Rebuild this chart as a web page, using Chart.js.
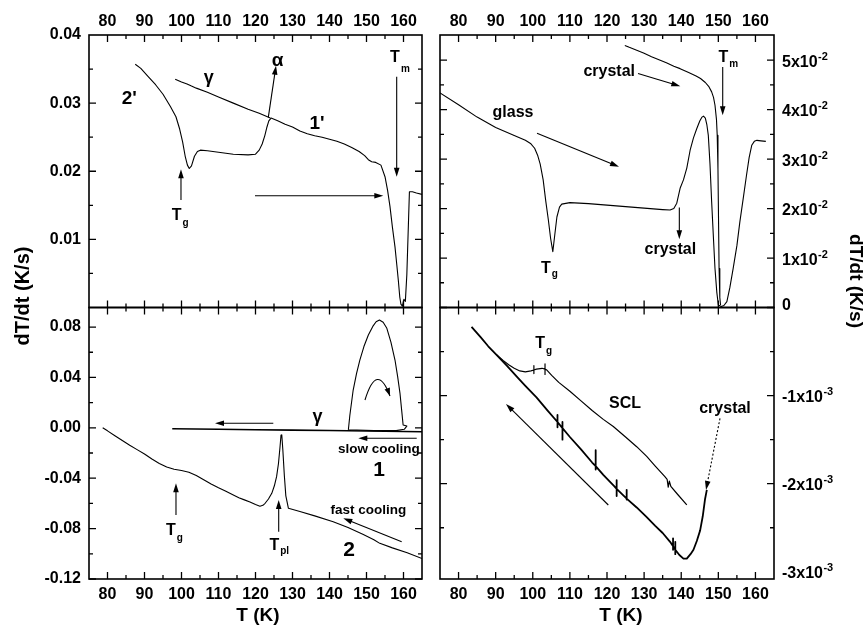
<!DOCTYPE html>
<html>
<head>
<meta charset="utf-8">
<title>dT/dt vs T</title>
<script src="https://cdn.jsdelivr.net/npm/chart.js@4.4.1/dist/chart.umd.min.js"></script>
<style>
  html, body { margin: 0; padding: 0; background: #fff; }
  #stage { position: relative; width: 866px; height: 627px; }
  #stage canvas { position: absolute; left: 0; top: 0; }
</style>
</head>
<body>
<div id="stage">
  <canvas id="tl" width="866" height="627"></canvas>
  <canvas id="tr" width="866" height="627"></canvas>
  <canvas id="bl" width="866" height="627"></canvas>
  <canvas id="br" width="866" height="627"></canvas>
</div>
<script>
const W = 866, H = 627;
const FONT = "'Liberation Sans', Arial, Helvetica, sans-serif";
const Y_AXIS_W = 80, X_AXIS_H = 30;

// shared temperature axis (K)
const T_MIN = 75, T_MAX = 165;
const T_LABELS = [80, 90, 100, 110, 120, 130, 140, 150, 160];
const T_MINOR = [85, 95, 105, 115, 125, 135, 145, 155];

// top left: heating runs 2' and 1', plus the gamma branch
const tlCurveT = [87.5, 89, 91, 93, 95, 97, 98.5, 99.5, 100.3, 101, 101.6, 102.1, 102.7, 103.5, 104.3, 105.1, 107, 110, 114, 118, 120, 121, 121.8, 122.5, 123.1, 123.6, 124.2, 126, 128, 130, 132, 134, 136, 138, 140, 142, 144, 146, 148, 149.5, 150.5, 151.4, 152.5, 153.9, 155.0, 155.7, 156.35, 157.0, 157.7, 158.2, 158.6, 159.0, 159.3, 159.7, 160.1, 160.5, 160.9, 161.6, 162.4, 163.5, 165];
const tlCurveV = [0.0357, 0.0351, 0.0339, 0.0327, 0.0313, 0.0295, 0.028, 0.0262, 0.0243, 0.0222, 0.0209, 0.0204, 0.0208, 0.0222, 0.0229, 0.0231, 0.023, 0.0228, 0.0225, 0.0224, 0.0225, 0.0231, 0.024, 0.0252, 0.0265, 0.0274, 0.0278, 0.0274, 0.0269, 0.0265, 0.0259, 0.0255, 0.0252, 0.025, 0.0247, 0.0244, 0.024, 0.0235, 0.0229, 0.0223, 0.0217, 0.0214, 0.0213, 0.0209, 0.0192, 0.0172, 0.0148, 0.0118, 0.0089, 0.0062, 0.004, 0.0015, 0.0005, 0.0002, 0.0012, 0.0009, 0.0048, 0.017, 0.017, 0.0168, 0.0166];
const tlGammaT = [98.3, 100, 101.5, 102.7, 104, 107, 110, 114, 118, 121, 124];
const tlGammaV = [0.0335, 0.0331, 0.0328, 0.0325, 0.0322, 0.0316, 0.0309, 0.03, 0.0291, 0.0285, 0.0278];
const tlYLabels = [0.01, 0.02, 0.03, 0.04];
const tlYMajor = [0.01, 0.02, 0.03];
const tlYMinor = [0.005, 0.015, 0.025, 0.035];

// top right: glass and crystal heating
const trGlassT = [75, 80, 85, 90, 95, 98, 99.5, 100.5, 101.3, 102, 102.8, 103.5, 104.2, 104.8, 105.4, 105.9, 106.5, 107.2, 107.8, 110, 115, 120, 125, 130, 135, 137, 138, 138.8, 139.7, 140.6, 141.5, 142.4, 143.3, 144.2, 145, 145.6, 146, 146.5, 146.9, 147.3, 147.75, 148.2, 148.65, 149.1, 149.6, 150, 150.8, 151.5, 152.3, 153.1, 154, 155, 155.8, 156.7, 157.6, 158.3, 159, 159.7, 160.4, 161.5, 162.8];
const trGlassV = [0.0434, 0.041, 0.0385, 0.0364, 0.0348, 0.0338, 0.0331, 0.0322, 0.0308, 0.029, 0.0258, 0.0215, 0.0177, 0.014, 0.0113, 0.0145, 0.0183, 0.0203, 0.0209, 0.0212, 0.021, 0.0207, 0.0204, 0.0201, 0.0198, 0.0197, 0.02, 0.0211, 0.0241, 0.0258, 0.0282, 0.0318, 0.0343, 0.0362, 0.0377, 0.0385, 0.0387, 0.0383, 0.037, 0.0348, 0.029, 0.0214, 0.0145, 0.0079, 0.003, 0.0005, 0.0002, 0.0004, 0.0012, 0.004, 0.0079, 0.0125, 0.0173, 0.022, 0.0268, 0.0303, 0.0328, 0.0336, 0.0338, 0.0337, 0.0336];
const trCrystalT = [124.8, 126, 128, 130, 132, 134, 136, 138, 139.7, 142, 144, 145.2, 146.5, 147.5, 148.2, 148.7, 149.1, 149.5, 149.7, 149.9, 150, 150.2, 150.4, 150.6];
const trCrystalV = [0.053, 0.0526, 0.052, 0.0514, 0.0507, 0.0501, 0.0495, 0.0488, 0.0483, 0.0475, 0.0468, 0.0463, 0.0455, 0.0446, 0.0436, 0.0425, 0.0409, 0.038, 0.0348, 0.028, 0.0214, 0.0079, 0.002, 0.0005];
const trYTicks = [0, 0.01, 0.02, 0.03, 0.04, 0.05];
const trYText = ['0', '1x10', '2x10', '3x10', '4x10', '5x10'];
const trYMinor = [0.005, 0.015, 0.025, 0.035, 0.045];

// bottom left: fast cooling (2), slow cooling (1) with crystallisation loop
const blFastT = [78.7, 80, 82, 84, 86, 88, 90, 92, 94, 96, 98, 100, 102, 104, 106, 108, 110, 112, 114, 115.5, 117, 118.5, 120, 121.2, 122, 122.6, 123.5, 124.4, 125.1, 125.7, 126.2, 126.6, 126.9, 127.1, 127.4, 127.8, 128.2, 128.9, 132, 136, 141, 145, 149, 152, 153.6, 157, 161, 165];
const blFastV = [0, -0.0024, -0.0063, -0.0101, -0.0138, -0.0173, -0.0208, -0.0248, -0.0283, -0.0311, -0.0329, -0.0339, -0.0352, -0.0378, -0.0412, -0.0446, -0.0476, -0.0504, -0.0533, -0.0555, -0.0572, -0.0588, -0.0609, -0.0622, -0.0615, -0.0599, -0.0565, -0.052, -0.046, -0.0388, -0.0285, -0.016, -0.0057, -0.0055, -0.018, -0.038, -0.054, -0.0639, -0.0664, -0.0699, -0.0745, -0.0792, -0.0845, -0.0888, -0.0917, -0.0953, -0.0992, -0.1037];
const blSlowT = [97.5, 110, 120, 130, 140, 145, 150, 155, 160, 165];
const blSlowV = [-0.0007, -0.0011, -0.0015, -0.0018, -0.0021, -0.0023, -0.0025, -0.0027, -0.0029, -0.0031];
const blLoopT = [145.1, 145.5, 146.4, 147.3, 148.2, 149.3, 150.5, 151.7, 152.6, 153.5, 154.5, 155.5, 156.6, 157.7, 158.4, 159.05, 159.5, 159.9, 160.9, 160.2, 158, 152, 145.1];
const blLoopV = [-0.0015, 0.01, 0.03, 0.043, 0.0538, 0.0645, 0.0737, 0.0805, 0.0842, 0.0856, 0.0838, 0.079, 0.068, 0.0538, 0.041, 0.0274, 0.014, 0.0022, 0.0014, -0.0012, -0.0022, -0.0022, -0.0015];
const blYLabels = [-0.12, -0.08, -0.04, 0, 0.04, 0.08];
const blYMinor = [-0.1, -0.06, -0.02, 0.02, 0.06];

// bottom right: cooling of glass/crystal and SCL (vertical glitches kept as spikes)
const brLowT = [83.5, 86, 88, 90.3, 93, 96, 98, 101, 104,
  106.66, 106.66, 106.66, 106.66, 108, 108, 108, 108, 110, 113, 116,
  116.95, 116.95, 116.95, 116.95, 119, 122, 122.6, 122.6, 122.6, 122.6,
  125.3, 125.3, 125.3, 125.3, 128, 130.7, 133, 135, 137,
  137.8, 137.8, 137.8, 137.8, 138.4, 138.4, 138.4, 138.4,
  139.5, 140.6, 141.5, 142.5, 143.3, 144.2, 145.1, 145.8, 146.4, 146.9];
const brLowV = [-0.00022, -0.00034, -0.00044, -0.00054, -0.00066, -0.0008, -0.00089, -0.00102, -0.00117,
  -0.0013, -0.00122, -0.00136, -0.0013, -0.00137, -0.0013, -0.0015, -0.00137, -0.00147, -0.00161, -0.00176,
  -0.0018, -0.00162, -0.00184, -0.0018, -0.0019, -0.00203, -0.00206, -0.00196, -0.00214, -0.00206,
  -0.00217, -0.00207, -0.00218, -0.00217, -0.00227, -0.00238, -0.00248, -0.00256, -0.00266,
  -0.00271, -0.00262, -0.00275, -0.00271, -0.00275, -0.00266, -0.0028, -0.00275,
  -0.00281, -0.00285, -0.00285, -0.0028, -0.00275, -0.00265, -0.00253, -0.00237, -0.00218, -0.00207];
const brSclT = [90.3, 92, 93.5, 95, 96.5, 98, 99.5, 100.3, 100.3, 100.3, 100.3, 101, 102.5,
  103.3, 103.3, 103.3, 103.3, 103.8, 105.1, 107, 110, 113, 116, 119, 121.7, 125, 128, 130.7, 133,
  135.6, 136.2, 136.5, 136.8, 137.2, 139, 141.5];
const brSclV = [-0.00054, -0.0006, -0.00065, -0.00069, -0.00072, -0.00073, -0.00072, -0.00071, -0.00066, -0.00075, -0.00071, -0.0007, -0.00069,
  -0.0007, -0.00064, -0.00076, -0.0007, -0.00071, -0.00077, -0.00085, -0.00095, -0.00106, -0.00117, -0.00127, -0.00135, -0.00147, -0.00158, -0.00169, -0.0018,
  -0.00192, -0.00195, -0.00204, -0.00197, -0.00203, -0.00212, -0.00224];
const brYTicks = [-0.001, -0.002, -0.003];
const brYText = ['-1x10', '-2x10', '-3x10'];
const brYMajor = [-0.001, -0.002];
const brYMinor = [-0.0005, -0.0015, -0.0025];

function arrowHead(ctx, x, y, ang, len = 9, hw = 2.8) {
  ctx.beginPath();
  ctx.moveTo(x, y);
  ctx.lineTo(x - len * Math.cos(ang) + hw * Math.sin(ang), y - len * Math.sin(ang) - hw * Math.cos(ang));
  ctx.lineTo(x - len * Math.cos(ang) - hw * Math.sin(ang), y - len * Math.sin(ang) + hw * Math.cos(ang));
  ctx.closePath();
  ctx.fill();
}

function drawLabel(ctx, x, y, s) {
  const size = s.size || 16, subSize = 10;
  ctx.font = `bold ${size}px ${FONT}`;
  ctx.textAlign = 'left';
  ctx.textBaseline = 'alphabetic';
  const w = ctx.measureText(s.text).width;
  const base = y + (s.c !== undefined ? s.c : 0.36) * size;
  ctx.fillText(s.text, x - w / 2, base);
  if (s.sub) {
    ctx.font = `bold ${subSize}px ${FONT}`;
    ctx.fillText(s.sub, x + w / 2 + 1, base + (s.subDy || 6));
  }
}

// frame, inward ticks, arrows and texts
function decor(cfg) {
  return {
    id: 'decor',
    afterDraw(chart) {
      const { ctx, chartArea: a } = chart;
      const X = v => chart.scales.x.getPixelForValue(v);
      const Y = v => chart.scales.y.getPixelForValue(v);
      ctx.save();
      ctx.fillStyle = '#000';
      ctx.strokeStyle = '#000';

      ctx.lineWidth = 1.3;
      ctx.beginPath();
      const tx = (vals, len) => vals.forEach(v => {
        const p = X(v);
        ctx.moveTo(p, a.top); ctx.lineTo(p, a.top + len);
        ctx.moveTo(p, a.bottom); ctx.lineTo(p, a.bottom - len);
      });
      const ty = (vals, len) => vals.forEach(v => {
        const p = Y(v);
        ctx.moveTo(a.left, p); ctx.lineTo(a.left + len, p);
        ctx.moveTo(a.right, p); ctx.lineTo(a.right - len, p);
      });
      tx(T_LABELS, 7); tx(T_MINOR, 4);
      ty(cfg.yMajor, 7); ty(cfg.yMinor, 4);
      ctx.stroke();
      ctx.lineWidth = 1.6;
      ctx.strokeRect(a.left, a.top, a.right - a.left, a.bottom - a.top);

      // right-hand axis labels with exponents
      if (cfg.rightTicks) {
        cfg.rightTicks.forEach((v, i) => {
          const p = Y(v), x0 = a.right + 8, m = cfg.rightText[i];
          ctx.font = `bold 16px ${FONT}`;
          ctx.textAlign = 'left';
          ctx.textBaseline = 'alphabetic';
          if (m === '0') { ctx.fillText(m, x0, p + 2); return; }
          ctx.fillText(m, x0, p + 6.5);
          const w = ctx.measureText(m).width;
          ctx.font = `bold 11px ${FONT}`;
          ctx.fillText(cfg.rightExp, x0 + w + 0.5, p - 0.5);
        });
      }

      (cfg.arrows || []).forEach(ar => {
        const x1 = X(ar[0]), y1 = Y(ar[1]), x2 = X(ar[2]), y2 = Y(ar[3]);
        const ang = Math.atan2(y2 - y1, x2 - x1);
        ctx.lineWidth = 1.1;
        ctx.setLineDash(ar[4] ? [2, 2] : []);
        ctx.beginPath();
        ctx.moveTo(x1, y1);
        ctx.lineTo(x2 - 6 * Math.cos(ang), y2 - 6 * Math.sin(ang));
        ctx.stroke();
        ctx.setLineDash([]);
        arrowHead(ctx, x2, y2, ang);
      });

      (cfg.bends || []).forEach(b => {
        const x0 = X(b[0]), y0 = Y(b[1]), xc = X(b[2]), yc = Y(b[3]), x1 = X(b[4]), y1 = Y(b[5]);
        ctx.lineWidth = 1.1;
        ctx.beginPath();
        ctx.moveTo(x0, y0);
        ctx.quadraticCurveTo(xc, yc, x1, y1);
        ctx.stroke();
        arrowHead(ctx, x1, y1, Math.atan2(y1 - yc, x1 - xc), 8, 2.8);
      });

      (cfg.labels || []).forEach(s => drawLabel(ctx, X(s.t), Y(s.v), s));

      (cfg.titles || []).forEach(t => {
        ctx.save();
        ctx.translate(t.x, t.y);
        ctx.rotate((t.rot || 0) * Math.PI / 180);
        ctx.font = `bold ${t.size}px ${FONT}`;
        ctx.textAlign = 'center';
        ctx.textBaseline = 'middle';
        ctx.fillText(t.text, 0, 0);
        ctx.restore();
      });
      ctx.restore();
    }
  };
}

function xAxis(pos) {
  return {
    type: 'linear', min: T_MIN, max: T_MAX,
    position: pos || 'bottom', display: !!pos,
    afterBuildTicks: ax => { ax.ticks = T_LABELS.map(value => ({ value })); },
    afterFit: ax => { ax.height = X_AXIS_H; },
    grid: { display: false, drawTicks: false },
    border: { display: false },
    ticks: {
      color: '#000', padding: pos === 'top' ? 4 : 6,
      font: { family: FONT, size: 16, weight: 'bold' },
      maxRotation: 0, autoSkip: false
    }
  };
}

function yAxis(cfg) {
  if (!cfg.yLabels) {
    return { type: 'linear', min: cfg.yMin, max: cfg.yMax, display: false };
  }
  return {
    type: 'linear', min: cfg.yMin, max: cfg.yMax, position: 'left',
    afterBuildTicks: ax => { ax.ticks = cfg.yLabels.map(value => ({ value })); },
    afterFit: ax => { ax.width = Y_AXIS_W; },
    grid: { display: false, drawTicks: false },
    border: { display: false },
    ticks: {
      color: '#000', padding: 8,
      font: { family: FONT, size: 16, weight: 'bold' },
      callback: v => v.toFixed(2)
    }
  };
}

function panel(id, box, cfg) {
  const [l, t, r, b] = box;
  const pad = {
    left: l - (cfg.yLabels ? Y_AXIS_W : 0),
    top: t - (cfg.xPos === 'top' ? X_AXIS_H : 0),
    right: W - r,
    bottom: H - b - (cfg.xPos === 'bottom' ? X_AXIS_H : 0)
  };
  return new Chart(document.getElementById(id), {
    type: 'line',
    data: {
      datasets: cfg.series.map(s => ({
        data: s.T.map((x, i) => ({ x, y: s.V[i] })),
        borderColor: '#000', borderWidth: s.width || 1.1,
        borderJoinStyle: 'round', pointRadius: 0, tension: 0, fill: false
      }))
    },
    options: {
      responsive: false, animation: false, devicePixelRatio: 1,
      layout: { padding: pad },
      plugins: { legend: { display: false }, tooltip: { enabled: false } },
      scales: { x: xAxis(cfg.xPos), y: yAxis(cfg) }
    },
    plugins: [decor(cfg)]
  });
}

panel('tl', [89, 35, 422, 307.5], {
  xPos: 'top', yMin: 0, yMax: 0.04, yLabels: tlYLabels, yMajor: tlYMajor, yMinor: tlYMinor,
  series: [{ T: tlCurveT, V: tlCurveV }, { T: tlGammaT, V: tlGammaV }],
  arrows: [
    [123.46, 0.02792, 125.54, 0.03549],
    [158.16, 0.03388, 158.16, 0.0192],
    [99.86, 0.01578, 99.86, 0.02029],
    [119.86, 0.01641, 154.54, 0.01641]
  ],
  labels: [
    { t: 85.9, v: 0.03094, text: "2'", size: 19 },
    { t: 107.35, v: 0.03332, text: 'γ', size: 18, c: 0.16 },
    { t: 125.95, v: 0.03618, text: 'α', size: 19, c: 0.26 },
    { t: 136.62, v: 0.02723, text: "1'", size: 19 },
    { t: 157.7, v: 0.03681, text: 'T', sub: 'm', subDy: 10 },
    { t: 98.7, v: 0.0137, text: 'T', sub: 'g', subDy: 6 }
  ]
});

panel('tr', [440, 35, 774, 307.5], {
  xPos: 'top', yMin: 0, yMax: 0.0551, yMajor: trYTicks, yMinor: trYMinor,
  rightTicks: trYTicks, rightText: trYText, rightExp: '-2',
  series: [{ T: trGlassT, V: trGlassV }, { T: trCrystalT, V: trCrystalV }],
  arrows: [
    [101.14, 0.03525, 123.23, 0.02844],
    [128.36, 0.04731, 139.75, 0.04475],
    [151.18, 0.04865, 151.18, 0.03889],
    [139.49, 0.02024, 139.49, 0.01378]
  ],
  labels: [
    { t: 94.67, v: 0.0393, text: 'glass', c: 0.26 },
    { t: 120.6, v: 0.04758, text: 'crystal', c: 0.26 },
    { t: 151.34, v: 0.05085, text: 'T', sub: 'm', subDy: 5 },
    { t: 103.51, v: 0.00824, text: 'T', sub: 'g', subDy: 4 },
    { t: 137.06, v: 0.01172, text: 'crystal', c: 0.26 }
  ]
});

panel('bl', [89, 307.5, 422, 579], {
  xPos: 'bottom', yMin: -0.12, yMax: 0.0955, yLabels: blYLabels, yMajor: blYLabels, yMinor: blYMinor,
  series: [{ T: blFastT, V: blFastV }, { T: blSlowT, V: blSlowV, width: 1.6 }, { T: blLoopT, V: blLoopV }],
  arrows: [
    [124.81, 0.00357, 109.05, 0.00357],
    [163.57, -0.00833, 147.78, -0.00833],
    [159.51, -0.0904, 143.73, -0.07183],
    [98.51, -0.0692, 98.51, -0.04405],
    [126.27, -0.08246, 126.27, -0.0573]
  ],
  bends: [[149.59, 0.02206, 152.84, 0.05302, 156.35, 0.02524]],
  labels: [
    { t: 136.76, v: 0.00698, text: 'γ', size: 18, c: 0.16 },
    { t: 153.32, v: -0.01698, text: 'slow cooling', size: 13.5, c: 0.26 },
    { t: 153.43, v: -0.03214, text: '1', size: 21 },
    { t: 150.49, v: -0.06587, text: 'fast cooling', size: 13.5, c: 0.26 },
    { t: 145.32, v: -0.09563, text: '2', size: 21 },
    { t: 97.1, v: -0.08016, text: 'T', sub: 'g', subDy: 6 },
    { t: 125.08, v: -0.09238, text: 'T', sub: 'pl', subDy: 4 }
  ],
  titles: [
    { x: 23, y: 296, text: 'dT/dt (K/s)', size: 20, rot: -90 },
    { x: 258, y: 616, text: 'T (K)', size: 19 }
  ]
});

panel('br', [440, 307.5, 774, 579], {
  xPos: 'bottom', yMin: -0.003082, yMax: 0, yMajor: brYMajor, yMinor: brYMinor,
  rightTicks: brYTicks, rightText: brYText, rightExp: '-3',
  series: [{ T: brLowT, V: brLowV, width: 1.8 }, { T: brSclT, V: brSclV, width: 1.2 }],
  arrows: [
    [150.45, -0.001258, 146.68, -0.002071, true],
    [120.35, -0.002242, 92.78, -0.001095]
  ],
  labels: [
    { t: 101.95, v: -0.000397, text: 'T', sub: 'g', subDy: 6 },
    { t: 124.85, v: -0.001078, text: 'SCL' },
    { t: 151.8, v: -0.00115, text: 'crystal', c: 0.26 }
  ],
  titles: [
    { x: 855, y: 281, text: 'dT/dt (K/s)', size: 19, rot: 90 },
    { x: 621, y: 616, text: 'T (K)', size: 19 }
  ]
});
</script>
</body>
</html>
